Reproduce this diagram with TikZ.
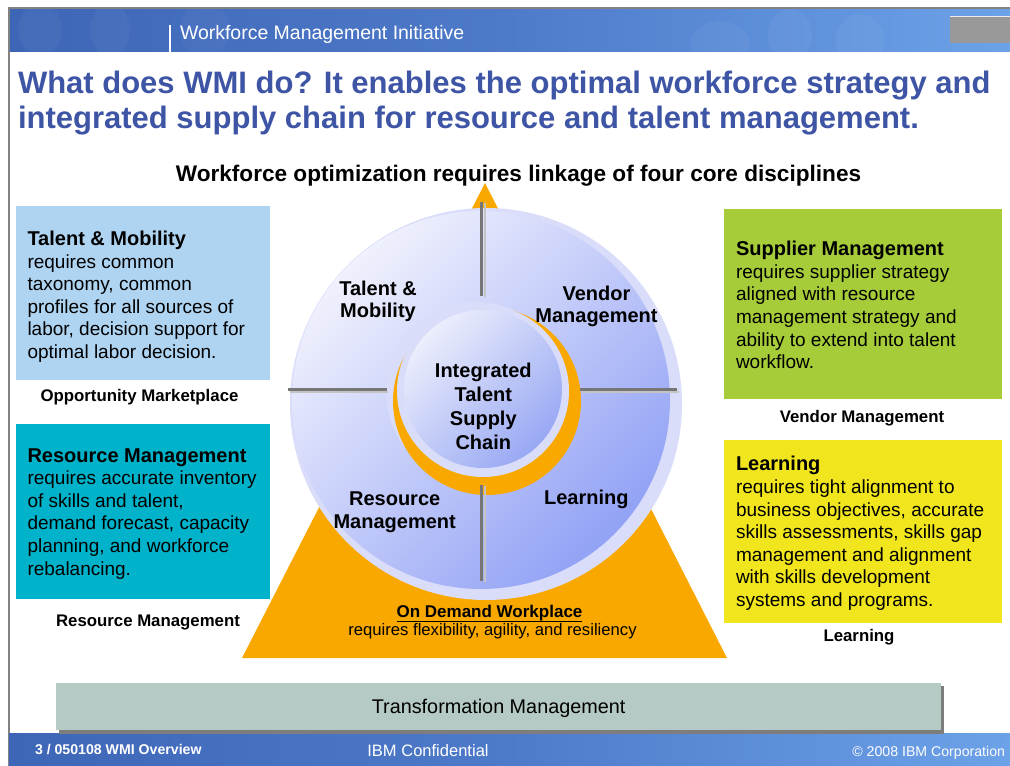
\documentclass[tikz,border=0pt]{standalone}
\usepackage{fontspec}
\setmainfont{Liberation Sans}
\definecolor{hdl}{RGB}{62,102,182}
\definecolor{hdm}{RGB}{78,122,202}
\definecolor{hdr}{RGB}{108,162,232}
\definecolor{framegray}{RGB}{130,130,130}
\definecolor{titleblue}{RGB}{62,84,165}
\definecolor{tmblue}{RGB}{174,212,242}
\definecolor{rmteal}{RGB}{0,178,202}
\definecolor{smgreen}{RGB}{166,205,57}
\definecolor{lnyellow}{RGB}{241,230,30}
\definecolor{odorange}{RGB}{249,168,0}
\definecolor{halo}{RGB}{218,221,250}
\definecolor{discL}{RGB}{240,241,253}
\definecolor{discD}{RGB}{146,162,245}
\definecolor{innerL}{RGB}{236,238,252}
\definecolor{innerD}{RGB}{152,168,243}
\definecolor{divdark}{RGB}{118,118,118}
\definecolor{divlight}{RGB}{196,196,196}
\definecolor{barfill}{RGB}{181,202,196}
\definecolor{barshadow}{RGB}{125,125,125}
\definecolor{graybox}{RGB}{153,153,153}
\begin{document}
\begin{tikzpicture}[x=0.75pt,y=-0.75pt,
  txt/.style={inner sep=0pt, outer sep=0pt},
  boxtxt/.style={txt, anchor=base west, align=left, font=\fontsize{14.25}{16.95}\selectfont},
  lbl/.style={txt, anchor=base, font=\bfseries\fontsize{12.6}{15}\selectfont},
  ring/.style={txt, anchor=base, align=center, font=\bfseries\fontsize{15}{17}\selectfont},
  divA/.style={divdark, line width=2.3pt},
  divB/.style={divlight, line width=1.5pt},
  foot/.style={txt, text=white}]
\useasboundingbox (0,0) rectangle (1010,766);
\fill[white] (0,0) rectangle (1010,766);

% header
\shade[left color=hdl, right color=hdr, middle color=hdm] (9,9) rectangle (1010,52);
\begin{scope}
\clip (9,9) rectangle (1010,52);
\fill[white, opacity=0.035] (40,30) ellipse (22 and 26);
\fill[white, opacity=0.035] (110,30) ellipse (20 and 26);
\fill[white, opacity=0.03] (205,30) ellipse (25 and 28);
\fill[white, opacity=0.04] (720,45) ellipse (30 and 24);
\fill[white, opacity=0.04] (790,35) ellipse (22 and 26);
\fill[white, opacity=0.04] (860,40) ellipse (24 and 26);
\end{scope}
\draw[white, line width=0.8pt] (170,25) -- (170,52);
\node[txt, anchor=base west, text=white, font=\fontsize{14.6}{17}\selectfont] (hdrtxt) at (180,40) {Workforce Management Initiative};
\fill[graybox] (950,16) rectangle (1010,43);
\draw[white!85!gray, line width=0.8pt] (950,16.5) -- (1010,16.5);
\draw[framegray, line width=1.1pt] (9,766) -- (9,8) -- (1010,8);

% title
\node[txt, anchor=base west, text=titleblue, font=\bfseries\fontsize{23.25}{27}\selectfont] (t1) at (18,94) {What does WMI do? It enables the optimal workforce strategy and};
\node[txt, anchor=base west, text=titleblue, font=\bfseries\fontsize{23.25}{27}\selectfont] (t2) at (18,129) {integrated supply chain for resource and talent management.};
\node[txt, anchor=base, font=\bfseries\fontsize{16.95}{20}\selectfont] (sub) at (518.5,182) {Workforce optimization requires linkage of four core disciplines};

% left boxes
\fill[tmblue] (16,206) rectangle (270,380.5);
\node[boxtxt] (tmtxt) at (27.5,358.5) {{\bfseries\fontsize{15}{16.95}\selectfont Talent \& Mobility}\\requires common\\taxonomy, common\\profiles for all sources of\\labor, decision support for\\optimal labor decision.};
\node[lbl] (opm) at (139.5,401.7) {Opportunity Marketplace};
\fill[rmteal] (16,424) rectangle (270,598.5);
\node[boxtxt] (rmtxt) at (27.5,575) {{\bfseries\fontsize{15}{16.95}\selectfont Resource Management}\\requires accurate inventory\\of skills and talent,\\demand forecast, capacity\\planning, and workforce\\rebalancing.};
\node[lbl] (rml) at (148,626) {Resource Management};

% right boxes
\fill[smgreen] (724,209.3) rectangle (1002,399.3);
\node[boxtxt] (smtxt) at (736,368.8) {{\bfseries\fontsize{15}{16.95}\selectfont Supplier Management}\\requires supplier strategy\\aligned with resource\\management strategy and\\ability to extend into talent\\workflow.};
\node[lbl] (vml) at (862,422.7) {Vendor Management};
\fill[lnyellow] (724,440) rectangle (1002,623.3);
\node[boxtxt] (lntxt) at (736,606.5) {{\bfseries\fontsize{15}{16.95}\selectfont Learning}\\requires tight alignment to\\business objectives, accurate\\skills assessments, skills gap\\management and alignment\\with skills development\\systems and programs.};
\node[lbl] (lnl) at (859,641.7) {Learning};

% triangle
\fill[odorange] (485,183) -- (727,658) -- (242,658) -- cycle;

% big disc
\fill[halo] (486,404) circle (196);
\shade[top color=discL, bottom color=discD, shading angle=45] (481,400) circle (189);
% inner disc
\fill[halo] (476,392) circle (90);
\fill[odorange] (487,401) circle (94);
\fill[halo] (483,391) circle (86);
\shade[top color=innerL, bottom color=innerD, shading angle=45] (483,389) circle (79);

% dividers
\draw[divA] (481.8,202) -- (481.8,296);
\draw[divB] (484.6,203) -- (484.6,297);
\draw[divA] (481.8,485) -- (481.8,581);
\draw[divB] (484.6,486) -- (484.6,582);
\draw[divA] (288,389.3) -- (386.5,389.3);
\draw[divB] (289.5,391.6) -- (388,391.6);
\draw[divA] (580,389.3) -- (677,389.3);
\draw[divB] (581.5,391.6) -- (678.5,391.6);

% ring labels (base = last line)
\node[ring] (rtm) at (378,318) {Talent \&\\Mobility};
\node[ring] (rvm) at (596.5,322.7) {Vendor\\Management};
\node[ring, font=\bfseries\fontsize{15}{17.9}\selectfont] (ritsc) at (483.3,449.3) {Integrated\\Talent\\Supply\\Chain};
\node[ring] (rrm) at (394.7,528.3) {Resource\\Management};
\node[ring] (rln) at (586.3,504.3) {Learning};

% on demand workplace
\node[txt, anchor=base, font=\bfseries\fontsize{12.75}{15}\selectfont] (odw) at (489.5,617.3) {On Demand Workplace};
\draw[black, line width=0.9pt] ([yshift=-3.4pt]odw.base west) -- ([yshift=-3.4pt]odw.base east);
\node[txt, anchor=base, font=\fontsize{12.5}{15}\selectfont] (odwtxt) at (492.5,635) {requires flexibility, agility, and resiliency};

% transformation bar
\fill[barshadow] (59,686) rectangle (943.5,733);
\fill[barfill] (56,683) rectangle (940.5,730);
\node[txt, anchor=base, font=\fontsize{14.85}{17}\selectfont] (trm) at (498.6,713.3) {Transformation Management};

% footer
\shade[left color=hdl, right color=hdr, middle color=hdm] (9,733.5) rectangle (1010,766);
\fill[barshadow] (59,733) rectangle (943.5,733.6);
\node[foot, anchor=base west, font=\bfseries\fontsize{10.6}{12}\selectfont] (f1) at (35,754.5) {3 / 050108 WMI Overview};
\node[foot, anchor=base, font=\fontsize{12.4}{14}\selectfont] (f2) at (428,756) {IBM Confidential};
\node[foot, anchor=base east, font=\fontsize{10.6}{12}\selectfont] (f3) at (1005,756) {\textcopyright{} 2008 IBM Corporation};
\end{tikzpicture}
\end{document}
